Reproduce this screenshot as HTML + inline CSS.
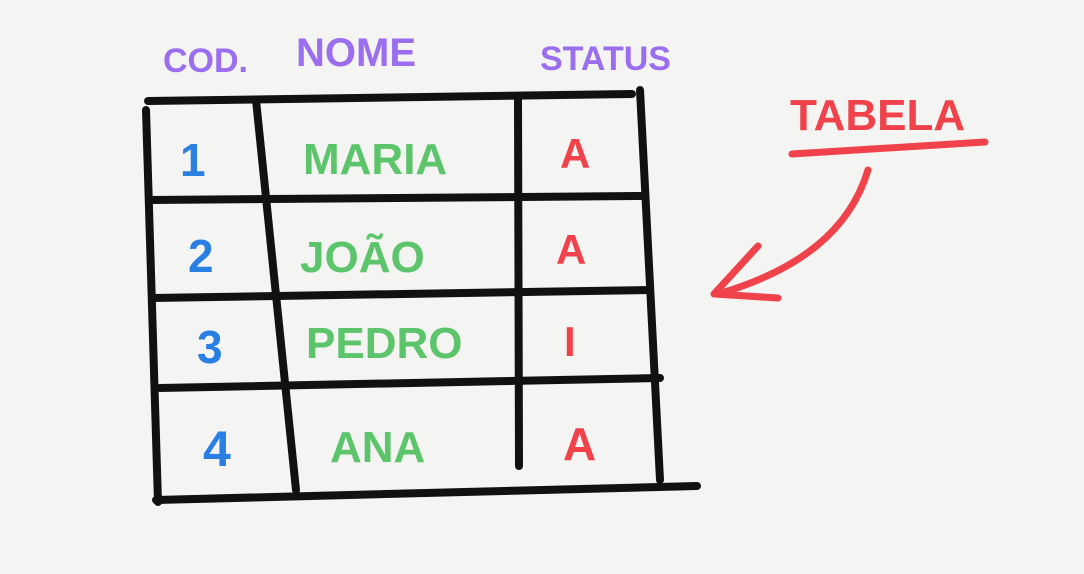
<!DOCTYPE html>
<html><head><meta charset="utf-8"><style>
html,body{margin:0;padding:0;background:#f4f4f2;}
svg{display:block;}
text{font-family:"Liberation Sans",sans-serif;font-weight:bold;}
</style></head><body>
<svg width="1084" height="574" viewBox="0 0 1084 574">
<rect width="1084" height="574" fill="#f4f4f2"/>
<g stroke="#111" stroke-width="8" stroke-linecap="round" fill="none">
<path d="M148 101 L632 94"/>
<path d="M146 110 L158 502"/>
<path d="M256 100 L296 490"/>
<path d="M518 100 L519 466"/>
<path d="M640 90 L660 480"/>
<path d="M150 200 L642 196"/>
<path d="M152 298 L650 290"/>
<path d="M160 388 L660 378"/>
<path d="M156 500 L697 486"/>
</g>
<g fill="#9b6ef0">
<text x="163" y="72" font-size="34">COD.</text>
<text x="296" y="66" font-size="40">NOME</text>
<text x="540" y="70" font-size="34">STATUS</text>
</g>
<g fill="#2a7fe3">
<text x="180" y="176" font-size="46">1</text>
<text x="188" y="272" font-size="46">2</text>
<text x="197" y="363" font-size="46">3</text>
<text x="203" y="466" font-size="50">4</text>
</g>
<g fill="#5cc46a">
<text x="303" y="174" font-size="44">MARIA</text>
<text x="300" y="272" font-size="44">JOÃO</text>
<text x="306" y="358" font-size="44">PEDRO</text>
<text x="330" y="462" font-size="44">ANA</text>
</g>
<g fill="#f0424a">
<text x="560" y="168" font-size="42">A</text>
<text x="556" y="264" font-size="42">A</text>
<text x="564" y="356" font-size="42">I</text>
<text x="563" y="460" font-size="46">A</text>
</g>
<g>
<text x="790" y="130" font-size="44" fill="#f0424a">TABELA</text>
<path d="M792 154 L985 142" stroke="#f0424a" stroke-width="7" stroke-linecap="round" fill="none"/>
<path d="M868 170 C850 230 800 270 718 294" stroke="#f0424a" stroke-width="7" stroke-linecap="round" fill="none"/>
<path d="M758 246 L714 294 L778 298" stroke="#f0424a" stroke-width="7" stroke-linecap="round" stroke-linejoin="round" fill="none"/>
</g>
</svg>
</body></html>
